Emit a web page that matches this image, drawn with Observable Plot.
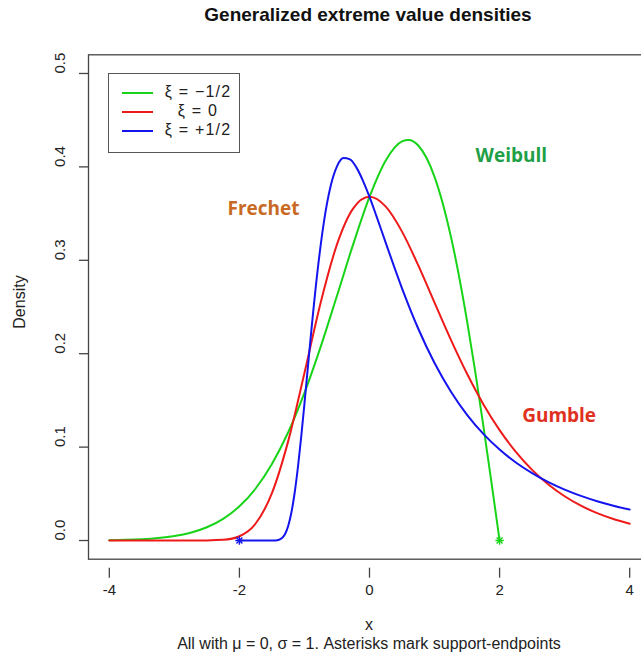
<!DOCTYPE html>
<html>
<head>
<meta charset="utf-8">
<script src="https://cdn.jsdelivr.net/npm/d3@7"></script>
<script src="https://cdn.jsdelivr.net/npm/@observablehq/plot@0.6"></script>
<style>
  html, body { margin: 0; padding: 0; background: #fff; }
  #wrap { position: relative; width: 641px; height: 654px; overflow: hidden; font-family: "Liberation Sans", Arial, sans-serif; color: #222; }
  #chart { position: absolute; left: 0; top: 0; width: 652px; }
  #chart svg { max-width: none !important; }
  .title { position: absolute; left: 0; top: 4px; width: 736px; text-align: center; font-weight: bold; font-size: 19px; line-height: 22px; color: #111; }
  .xlab { position: absolute; left: 269px; width: 200px; top: 616px; text-align: center; font-size: 16px; line-height: 18px; }
  .caption { position: absolute; left: 19px; width: 700px; top: 635px; text-align: center; font-size: 16px; line-height: 18px; }
  .ylab { position: absolute; left: -30px; top: 293px; width: 100px; height: 18px; line-height: 18px; text-align: center; font-size: 16px; transform: rotate(-90deg); transform-origin: 50% 50%; }
  #legend { position: absolute; left: 108px; top: 73px; width: 132px; height: 80px; border: 1.3px solid #555; box-sizing: border-box; background: #fff; }
  .lg-line { position: absolute; left: 13px; width: 31px; height: 0; border-top: 2px solid; }
  .lg-text { position: absolute; left: 44px; width: 90px; text-align: center; font-size: 16px; line-height: 18px; letter-spacing: 1.2px; }
</style>
</head>
<body>
<div id="wrap">
  <div id="chart"></div>
  <div class="title">Generalized extreme value densities</div>
  <div class="ylab">Density</div>
  <div class="xlab">x</div>
  <div class="caption">All with μ = 0, σ = 1. Asterisks mark support-endpoints</div>
  <div id="legend"></div>
</div>
<script>
// ---- data ----
const seriesNames = ["ξ = −1/2", "ξ = 0", "ξ = +1/2"];
const seriesColors = ["#18d418", "#ee1a1a", "#1414ee"];

const weibullX = [-4,-3.75,-3.5,-3.25,-3,-2.75,-2.5,-2.25,-2,-1.75,-1.5,-1.25,-1,-0.75,-0.5,-0.25,0,0.25,0.5,0.6,0.75,1,1.25,1.5,1.625,1.75,1.875,2];
const weibullY = [0.0004,0.0007,0.0014,0.0027,0.0048,0.0084,0.0142,0.0232,0.0366,0.0557,0.0819,0.1159,0.1581,0.2076,0.2620,0.3173,0.3679,0.4069,0.4273,0.4288,0.4229,0.3894,0.3258,0.2349,0.1810,0.1231,0.0623,0];

const gumbelX = [-4,-3.5,-3,-2.75,-2.5,-2.25,-2,-1.75,-1.5,-1.25,-1,-0.75,-0.5,-0.25,0,0.25,0.5,0.75,1,1.25,1.5,1.75,2,2.25,2.5,2.75,3,3.25,3.5,3.75,4];
const gumbelY = [0,0,0,0,0.0001,0.0007,0.0046,0.0182,0.0507,0.1064,0.1794,0.2549,0.3170,0.3556,0.3679,0.3574,0.3307,0.2945,0.2546,0.2151,0.1785,0.1460,0.1182,0.0949,0.0756,0.0600,0.0474,0.0373,0.0293,0.0230,0.0180];

const frechetX = [-2,-1.75,-1.6,-1.5,-1.45,-1.4,-1.35,-1.3,-1.25,-1.2,-1.15,-1.1,-1.05,-1,-0.95,-0.9,-0.8,-0.7,-0.6,-0.5,-0.4,-0.3,-0.2,-0.1,0,0.1,0.25,0.5,0.75,1,1.25,1.5,1.75,2,2.25,2.5,2.75,3,3.25,3.5,3.75,4];
const frechetY = [0,0,0,0,0.0001,0.0006,0.0023,0.0067,0.0155,0.0302,0.0514,0.0787,0.1109,0.1465,0.1836,0.2205,0.2879,0.3415,0.3787,0.4006,0.4094,0.4081,0.3992,0.3851,0.3679,0.3487,0.3187,0.2700,0.2267,0.1900,0.1596,0.1346,0.1142,0.0974,0.0835,0.0721,0.0625,0.0545,0.0478,0.0421,0.0373,0.0331];

const endpointX = [-2, 2];
const endpointY = [0, 0];
const endpointSeries = ["ξ = +1/2", "ξ = −1/2"];

const xTicks = [-4, -2, 0, 2, 4];
const yTicks = [0, 0.1, 0.2, 0.3, 0.4, 0.5];

const annLabels = ["Weibull", "Frechet", "Gumble"];
const annX = [2.18, -1.63, 2.915];
const annY = [0.412, 0.355, 0.133];
const annColors = {"Weibull": "#1fa046", "Frechet": "#c96a24", "Gumble": "#e0301e"};

// ---- build tables ----
const rows = [];
[[weibullX, weibullY, seriesNames[0]], [gumbelX, gumbelY, seriesNames[1]], [frechetX, frechetY, seriesNames[2]]]
  .forEach(([xs, ys, s]) => xs.forEach((x, i) => rows.push({x, y: ys[i], series: s})));
const endpoints = endpointX.map((x, i) => ({x, y: endpointY[i], series: endpointSeries[i]}));
const annotations = annLabels.map((label, i) => ({label, x: annX[i], y: annY[i]}));

const chart = Plot.plot({
  width: 652,
  height: 654,
  marginLeft: 88,
  marginRight: 2,
  marginTop: 54.3,
  marginBottom: 95.3,
  x: {domain: [-4.32, 4.32]},
  y: {domain: [-0.02, 0.52]},
  color: {domain: seriesNames, range: seriesColors},
  style: {fontFamily: "Liberation Sans, Arial, sans-serif", fontSize: "15px", color: "#222", background: "transparent", maxWidth: "none"},
  marks: [
    Plot.axisX({ticks: xTicks, tickSize: 10, tickPadding: 6, tickFormat: d => String(d), label: null, stroke: "#444", strokeWidth: 1.3, fontSize: 15, dy: 9}),
    Plot.axisY({ticks: yTicks, tickSize: 9, tickFormat: () => "", label: null, stroke: "#444", strokeWidth: 1.3}),
    Plot.text(yTicks, {y: d => d, frameAnchor: "left", dx: -28, rotate: -90, text: d => d.toFixed(1), fontSize: 15, fill: "#222"}),
    Plot.line(rows, {x: "x", y: "y", z: "series", stroke: "series", strokeWidth: 2, curve: "monotone-x"}),
    Plot.dot(endpoints, {x: "x", y: "y", stroke: "series", symbol: "plus", r: 2.8, strokeWidth: 1.4}),
    Plot.dot(endpoints, {x: "x", y: "y", stroke: "series", symbol: "times", r: 2.8, strokeWidth: 1.4}),
    ...annotations.map(a => Plot.text([a], {x: "x", y: "y", text: "label", fill: annColors[a.label], fontWeight: "bold", fontSize: 19, fontFamily: "Open Sans, Lato, sans-serif"})),
    Plot.frame({stroke: "#444", strokeWidth: 1.3})
  ]
});
document.getElementById("chart").appendChild(chart);

// ---- legend ----
const legend = document.getElementById("legend");
const rowTops = [19, 38, 57];
seriesNames.forEach((name, i) => {
  const ln = document.createElement("div");
  ln.className = "lg-line";
  ln.style.top = (rowTops[i] - 1) + "px";
  ln.style.borderTopColor = seriesColors[i];
  legend.appendChild(ln);
  const tx = document.createElement("div");
  tx.className = "lg-text";
  tx.style.top = (rowTops[i] - 10) + "px";
  tx.textContent = name;
  legend.appendChild(tx);
});
</script>
</body>
</html>
